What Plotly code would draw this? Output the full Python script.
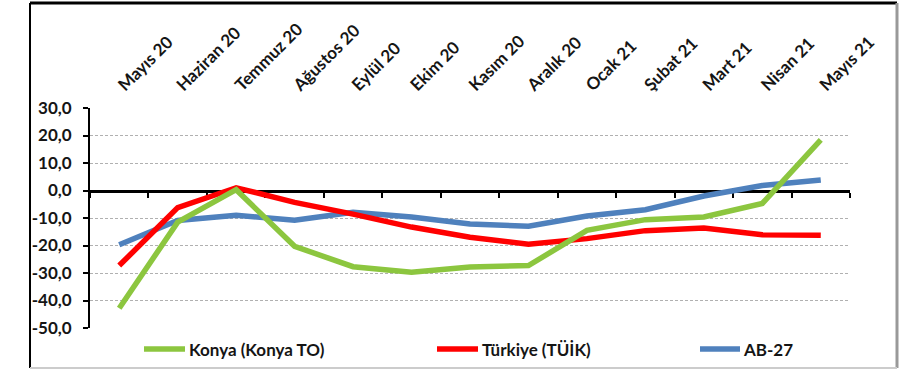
import plotly.graph_objects as go

# ---------------- data ----------------
categories = ["Mayıs 20", "Haziran 20", "Temmuz 20", "Ağustos 20", "Eylül 20", "Ekim 20",
              "Kasım 20", "Aralık 20", "Ocak 21", "Şubat 21", "Mart 21", "Nisan 21", "Mayıs 21"]
konya = [-42.8, -11.5, 0.3, -20.3, -27.7, -29.7, -27.8, -27.3, -14.5, -10.6, -9.6, -4.7, 18.4]
turkiye = [-27.3, -6.2, 1.0, -4.3, -8.6, -13.3, -17.0, -19.5, -17.5, -14.6, -13.6, -16.1, -16.3]
ab27 = [-19.7, -10.9, -9.0, -10.8, -7.9, -9.6, -12.2, -13.0, -9.3, -7.0, -2.0, 1.8, 3.8]

series_names = ["Konya (Konya TO)", "Türkiye (TÜİK)", "AB-27"]
series_colors = ["#8CC63F", "#FF0000", "#4F81BD"]

y_tick_vals = [30, 20, 10, 0, -10, -20, -30, -40, -50]
y_tick_text = ["30,0", "20,0", "10,0", "0,0", "-10,0", "-20,0", "-30,0", "-40,0", "-50,0"]
y_min, y_max = -50, 30

# ---------------- layout geometry ----------------
W, H = 918, 370
ML, MR, MT, MB = 90, 68, 108, 42
PW, PH = W - ML - MR, H - MT - MB


def px_x(px):
    return (px - ML) / PW


def px_y(py):
    return (H - MB - py) / PH


FONT = "Lato"
TXT = "#151515"

fig = go.Figure()

# draw order: blue, red, green
order = [2, 1, 0]
all_series = [konya, turkiye, ab27]
for i in order:
    fig.add_trace(go.Scatter(
        x=categories, y=all_series[i], mode="lines", name=series_names[i],
        line=dict(color=series_colors[i], width=5.5), showlegend=False,
    ))

# dummy trace so the zero-line axis (x2) is rendered
fig.add_trace(go.Scatter(x=categories, y=[None] * len(categories), xaxis="x2",
                         mode="lines", showlegend=False, hoverinfo="skip"))

shapes = []
annotations = []

# legend (manual)
legend_items = [(144, 185, 187), (437, 478, 480), (700, 740, 741)]
legend_y = 349
for k, (x0, x1, xt) in enumerate(legend_items):
    shapes.append(dict(type="line", xref="paper", yref="paper",
                       x0=px_x(x0), x1=px_x(x1), y0=px_y(legend_y), y1=px_y(legend_y),
                       line=dict(color=series_colors[k], width=5.5)))
    annotations.append(dict(xref="paper", yref="paper", x=px_x(xt), y=px_y(legend_y),
                            xanchor="left", yanchor="middle", showarrow=False,
                            text=series_names[k],
                            font=dict(family=FONT, size=17, color=TXT, weight="bold")))

# frame
fl, fr, ft, fb = 30, 897, 3, 368
shapes += [
    dict(type="line", xref="paper", yref="paper", x0=px_x(fl), x1=px_x(fr), y0=px_y(ft), y1=px_y(ft),
         line=dict(color="#000", width=3)),
    dict(type="line", xref="paper", yref="paper", x0=px_x(fl), x1=px_x(fl), y0=px_y(ft), y1=px_y(fb),
         line=dict(color="#000", width=2)),
    dict(type="line", xref="paper", yref="paper", x0=px_x(fr), x1=px_x(fr), y0=px_y(ft), y1=px_y(fb),
         line=dict(color="#999", width=3)),
    dict(type="line", xref="paper", yref="paper", x0=px_x(fl), x1=px_x(fr), y0=px_y(fb), y1=px_y(fb),
         line=dict(color="#ccc", width=2)),
]

zero_pos = (0 - y_min) / (y_max - y_min)

fig.update_layout(
    width=W, height=H,
    margin=dict(l=ML, r=MR, t=MT, b=MB, pad=0),
    paper_bgcolor="white", plot_bgcolor="white",
    showlegend=False,
    shapes=shapes, annotations=annotations,
    xaxis=dict(
        type="category", categoryorder="array", categoryarray=categories,
        range=[-0.5, len(categories) - 0.5],
        side="top", tickangle=-45, ticks="", showline=False, showgrid=False, zeroline=False,
        ticklabelstandoff=9,
        tickfont=dict(family=FONT, size=17, color=TXT, weight="bold"),
    ),
    xaxis2=dict(
        type="category", categoryorder="array", categoryarray=categories,
        range=[-0.5, len(categories) - 0.5],
        overlaying="x", anchor="free", position=zero_pos, side="bottom",
        showline=True, linecolor="#000", linewidth=3, layer="below traces",
        ticks="outside", ticklen=5, tickwidth=2, tickcolor="#000", tickson="boundaries",
        showticklabels=False, showgrid=False, zeroline=False,
    ),
    yaxis=dict(
        range=[y_min, y_max], tickmode="array", tickvals=y_tick_vals, ticktext=y_tick_text,
        showline=True, linecolor="#000", linewidth=2, ticks="outside", ticklen=5, tickwidth=2,
        tickcolor="#000", showgrid=True, gridcolor="#B0B0B0", gridwidth=1, griddash="3px,2px",
        zeroline=False, layer="below traces", ticklabelstandoff=8,
        tickfont=dict(family=FONT, size=17, color=TXT, weight="bold"),
    ),
)

fig.write_html("out.html", config={"displayModeBar": False},
               post_script="document.body.style.margin='0';document.body.style.overflow='hidden';")
